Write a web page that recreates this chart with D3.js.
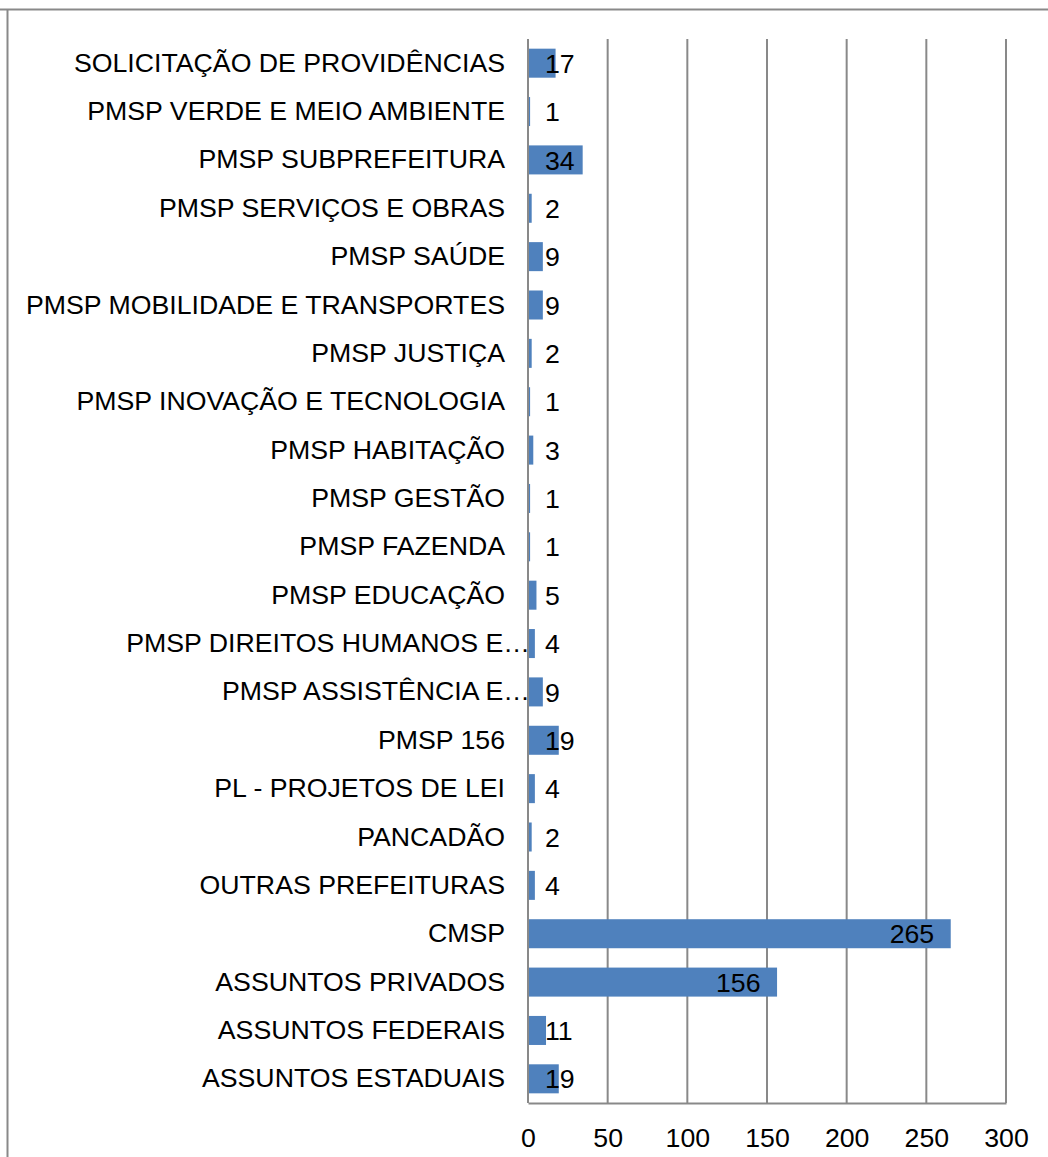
<!DOCTYPE html>
<html>
<head>
<meta charset="utf-8">
<script src="https://cdn.jsdelivr.net/npm/d3@7/dist/d3.min.js"></script>
<style>
  html, body { margin: 0; padding: 0; background: #fff; }
  svg { display: block; }
  text { font-family: "Liberation Sans", Arial, sans-serif; fill: #000; }
</style>
</head>
<body>
<svg id="chart" width="1048" height="1157"></svg>
<script>
// Categories top to bottom
const categories = [
  "SOLICITAÇÃO DE PROVIDÊNCIAS",
  "PMSP VERDE E MEIO AMBIENTE",
  "PMSP SUBPREFEITURA",
  "PMSP SERVIÇOS E OBRAS",
  "PMSP SAÚDE",
  "PMSP MOBILIDADE E TRANSPORTES",
  "PMSP JUSTIÇA",
  "PMSP INOVAÇÃO E TECNOLOGIA",
  "PMSP HABITAÇÃO",
  "PMSP GESTÃO",
  "PMSP FAZENDA",
  "PMSP EDUCAÇÃO",
  "PMSP DIREITOS HUMANOS E…",
  "PMSP ASSISTÊNCIA E…",
  "PMSP 156",
  "PL - PROJETOS DE LEI",
  "PANCADÃO",
  "OUTRAS PREFEITURAS",
  "CMSP",
  "ASSUNTOS PRIVADOS",
  "ASSUNTOS FEDERAIS",
  "ASSUNTOS ESTADUAIS"
];
const values = [17, 1, 34, 2, 9, 9, 2, 1, 3, 1, 1, 5, 4, 9, 19, 4, 2, 4, 265, 156, 11, 19];
const xTicks = [0, 50, 100, 150, 200, 250, 300];

const svg = d3.select("#chart");
const plot = { left: 528, right: 1006, top: 39, bottom: 1103 };
const fontSize = 26.7;
const gray = "#898989";
const barColor = "#4f81bd";

// outer border (only top & left visible)
svg.append("path")
  .attr("d", "M0,9.5 H1048 M7.5,9.5 V1157")
  .attr("fill", "none").attr("stroke", gray).attr("stroke-width", 2);

const x = d3.scaleLinear().domain([0, 300]).range([plot.left, plot.right]);
const y = d3.scaleBand().domain(categories).range([plot.top, plot.bottom]).paddingInner(0.4).paddingOuter(0.2);

// gridlines
svg.append("g").selectAll("line").data(xTicks.slice(1)).join("line")
  .attr("x1", d => x(d)).attr("x2", d => x(d))
  .attr("y1", plot.top).attr("y2", plot.bottom)
  .attr("stroke", gray).attr("stroke-width", 2);

// x axis via d3.axisBottom
const xAxis = svg.append("g")
  .attr("transform", `translate(0,${plot.bottom})`)
  .call(d3.axisBottom(x).tickValues(xTicks).tickSize(0).tickPadding(25).tickFormat(d3.format("d")));
xAxis.select(".domain").attr("stroke", gray).attr("stroke-width", 2);
xAxis.selectAll("text").attr("font-size", fontSize)
  .attr("font-family", "Liberation Sans, Arial, sans-serif").attr("fill", "#000");

// y axis
const yAxis = svg.append("g")
  .attr("transform", `translate(${plot.left},0)`)
  .call(d3.axisLeft(y).tickSize(0).tickPadding(23));
yAxis.select(".domain").attr("stroke", gray).attr("stroke-width", 2)
  .attr("d", `M0,${plot.top}V${plot.bottom}`);
yAxis.selectAll("text").attr("font-size", fontSize)
  .attr("font-family", "Liberation Sans, Arial, sans-serif").attr("fill", "#000")
  .attr("x", d => d.endsWith("…") ? 2 : -23);

// bars
const data = categories.map((c, i) => ({ c, v: values[i] }));
svg.append("g").selectAll("rect").data(data).join("rect")
  .attr("x", x(0) + 1)
  .attr("y", d => y(d.c))
  .attr("width", d => Math.max(0, x(d.v) - x(0) - 1) + 0.5)
  .attr("height", y.bandwidth())
  .attr("fill", barColor);

// value labels
const labels = svg.append("g").selectAll("text").data(data).join("text")
  .attr("font-size", fontSize)
  .attr("y", d => y(d.c) + y.bandwidth() / 2)
  .attr("dy", "0.36em")
  .attr("text-anchor", "start")
  .text(d => d.v);
labels.attr("x", function(d) {
  const w = this.getComputedTextLength();
  return Math.max(x(0) + 17, x(d.v) - 16 - w);
});
</script>
</body>
</html>
